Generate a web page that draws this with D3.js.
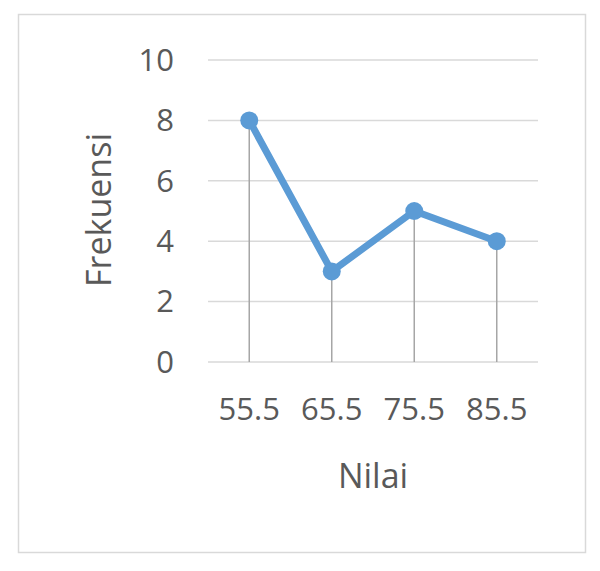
<!DOCTYPE html>
<html><head><meta charset="utf-8">
<script src="https://cdn.jsdelivr.net/npm/d3@7"></script>
<style>body{margin:0;background:#fff}svg{display:block}</style>
</head><body>
<script>
const categories = ["55.5","65.5","75.5","85.5"];
const frekuensi = [8,3,5,4];
const yTicks = [0,2,4,6,8,10];
const xTitle = "Nilai";
const yTitle = "Frekuensi";

const W=600,H=571;
const svg=d3.select("body").append("svg").attr("width",W).attr("height",H);
svg.append("rect").attr("x",18.5).attr("y",14.5).attr("width",567).attr("height",538)
  .attr("fill","#fff").attr("stroke","#D9D9D9").attr("stroke-width",1.5);

const x=d3.scaleBand().domain(categories).range([208,538]);
const y=d3.scaleLinear().domain([0,10]).range([362,60]);
const font="'Open Sans', sans-serif";
const txt="#595959";

svg.append("g").selectAll("line").data(yTicks).join("line")
  .attr("x1",208).attr("x2",538).attr("y1",d=>y(d)).attr("y2",d=>y(d))
  .attr("stroke","#D9D9D9").attr("stroke-width",1.5);

svg.append("g").selectAll("text").data(yTicks).join("text")
  .attr("x",174).attr("y",d=>y(d)).attr("dy","0.35em").attr("text-anchor","end")
  .attr("font-family",font).attr("font-size",31).attr("fill",txt).text(d=>d);

svg.append("g").selectAll("text").data(categories).join("text")
  .attr("x",d=>x(d)+x.bandwidth()/2).attr("y",420).attr("text-anchor","middle")
  .attr("font-family",font).attr("font-size",31).attr("fill",txt).text(d=>d);

const cx=d=>x(d)+x.bandwidth()/2;
svg.append("g").selectAll("line").data(categories).join("line")
  .attr("x1",cx).attr("x2",cx).attr("y1",(d,i)=>y(frekuensi[i])).attr("y2",y(0))
  .attr("stroke","#A6A6A6").attr("stroke-width",1.5);

const line=d3.line().x((d,i)=>cx(categories[i])).y(d=>y(d));
svg.append("path").datum(frekuensi).attr("d",line).attr("fill","none")
  .attr("stroke","#5B9BD5").attr("stroke-width",7).attr("stroke-linejoin","round");
svg.append("g").selectAll("circle").data(frekuensi).join("circle")
  .attr("cx",(d,i)=>cx(categories[i])).attr("cy",d=>y(d)).attr("r",9)
  .attr("fill","#5B9BD5");

svg.append("text").attr("x",373).attr("y",488).attr("text-anchor","middle")
  .attr("font-family",font).attr("font-size",34).attr("fill",txt).text(xTitle);
svg.append("text").attr("transform","translate(111,210) rotate(-90)").attr("text-anchor","middle")
  .attr("font-family",font).attr("font-size",34).attr("fill",txt).text(yTitle);
</script>
</body></html>
